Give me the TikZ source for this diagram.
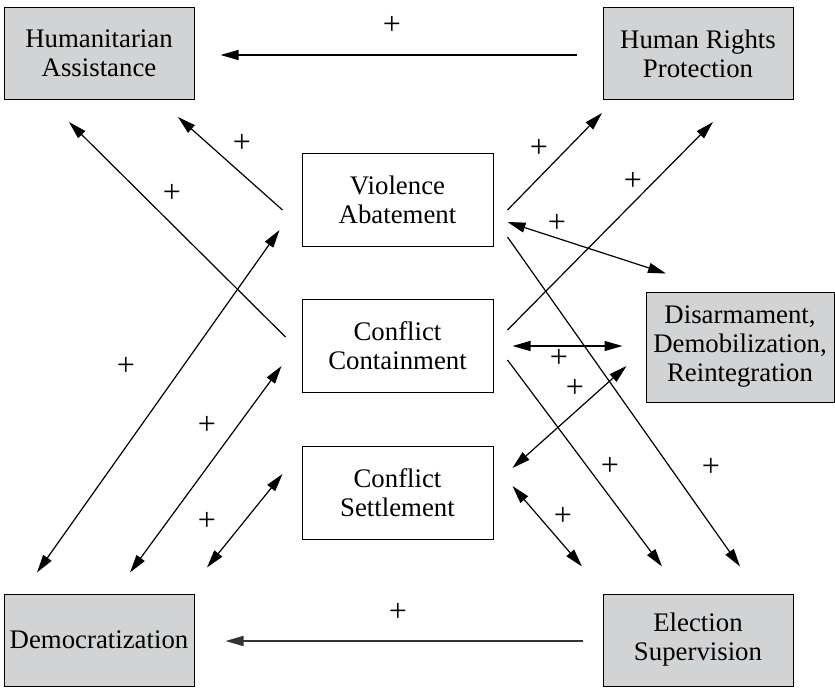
\documentclass[tikz,border=0pt]{standalone}
\usepackage{fontspec}
\setmainfont{Liberation Serif}
\usetikzlibrary{arrows.meta}
\definecolor{boxgray}{RGB}{209,211,213}

\begin{document}
\begin{tikzpicture}[x=0.5pt,y=-0.5pt,
	every node/.style={font=\rmfamily\fontsize{13.4}{14.5}\selectfont, align=center},
	outerbox/.style={draw, line width=0.5pt, fill=boxgray, minimum width=95pt, minimum height=46pt, inner sep=0pt},
	innerbox/.style={draw, line width=0.5pt, fill=white, minimum width=95.5pt, minimum height=46.5pt, inner sep=0pt},
	ddrbox/.style={outerbox, minimum width=94pt, minimum height=55pt},
	arr/.style={line width=0.6pt, -{Triangle[length=9pt,width=5pt]}},
	biarr/.style={line width=0.6pt, {Triangle[length=9pt,width=5pt]}-{Triangle[length=9pt,width=5pt]}},
	plus/.style={inner sep=0pt, font=\rmfamily\fontsize{16}{16}\selectfont}]

	%% boxes
	\useasboundingbox (0,0) rectangle (835,687);
	\node [outerbox] (hum) at (99,53.5)  {Humanitarian\\Assistance};
	\node [outerbox] (hrp) at (698,53.5) {Human Rights\\Protection};
	\node [innerbox] (va)  at (397.5,200)   {Violence\\Abatement};
	\node [innerbox] (cc)  at (397.5,345.5) {Conflict\\Containment};
	\node [innerbox] (cs)  at (397.5,493)   {Conflict\\Settlement};
	\node [ddrbox]   (ddr) at (740,347) {Disarmament,\\Demobilization,\\Reintegration};
	\node [outerbox] (dem) at (99,640)  {Democratization};
	\node [outerbox] (es)  at (698,640) {Election\\Supervision};

	%% links
	\draw [arr] ([shift={(-26,1.5)}]hrp.west) -- ([shift={(26,1.5)}]hum.east);
	\draw [arr, line width=0.9pt, black!80] ([shift={(-20,1)}]es.west) -- ([shift={(31,1)}]dem.east);
	\draw [arr] ([shift={(-19,10)}]va.west) -- ([shift={(79,17)}]hum.south);
	\draw [arr] ([shift={(-16,-8.5)}]cc.west) -- ([shift={(-30,22)}]hum.south);
	\draw [biarr] ([shift={(-62,-21)}]dem.north) -- ([shift={(-22,30)}]va.west);
	\draw [biarr] ([shift={(31,-21)}]dem.north) -- ([shift={(-20,20.5)}]cc.west);
	\draw [biarr] ([shift={(108,-26)}]dem.north) -- ([shift={(-19,-19)}]cs.west);
	\draw [arr] ([shift={(14,10)}]va.east) -- ([shift={(-96,13)}]hrp.south);
	\draw [arr] ([shift={(14,-15.5)}]cc.east) -- ([shift={(15,22)}]hrp.south);
	\draw [biarr] ([shift={(14,22)}]va.east) -- ([shift={(-74,-18)}]ddr.north);
	\draw [arr] ([shift={(14,37)}]va.east) -- ([shift={(42,-27)}]es.north);
	\draw [biarr] ([shift={(19,0.5)}]cc.east) -- ([shift={(-23,-1)}]ddr.west);
	\draw [biarr] ([shift={(-19,19)}]ddr.west) -- ([shift={(19,-25)}]cs.east);
	\draw [arr] ([shift={(14,14.5)}]cc.east) -- ([shift={(-36,-27)}]es.north);
	\draw [biarr] ([shift={(19,-7)}]cs.east) -- ([shift={(-116,-27)}]es.north);

	%% signs
	\node [plus] (p1)  at (392,25)  {+};
	\node [plus] (p2)  at (398,612) {+};
	\node [plus] (p3)  at (242,143) {+};
	\node [plus] (p4)  at (172,193) {+};
	\node [plus] (p5)  at (126,366) {+};
	\node [plus] (p6)  at (207,425) {+};
	\node [plus] (p7)  at (207,521) {+};
	\node [plus] (p8)  at (539,148) {+};
	\node [plus] (p9)  at (633,181) {+};
	\node [plus] (p10) at (557,223) {+};
	\node [plus] (p11) at (711,467) {+};
	\node [plus] (p12) at (559,358) {+};
	\node [plus] (p13) at (575,388) {+};
	\node [plus] (p14) at (610,466) {+};
	\node [plus] (p15) at (563,516) {+};

\end{tikzpicture}
\end{document}
